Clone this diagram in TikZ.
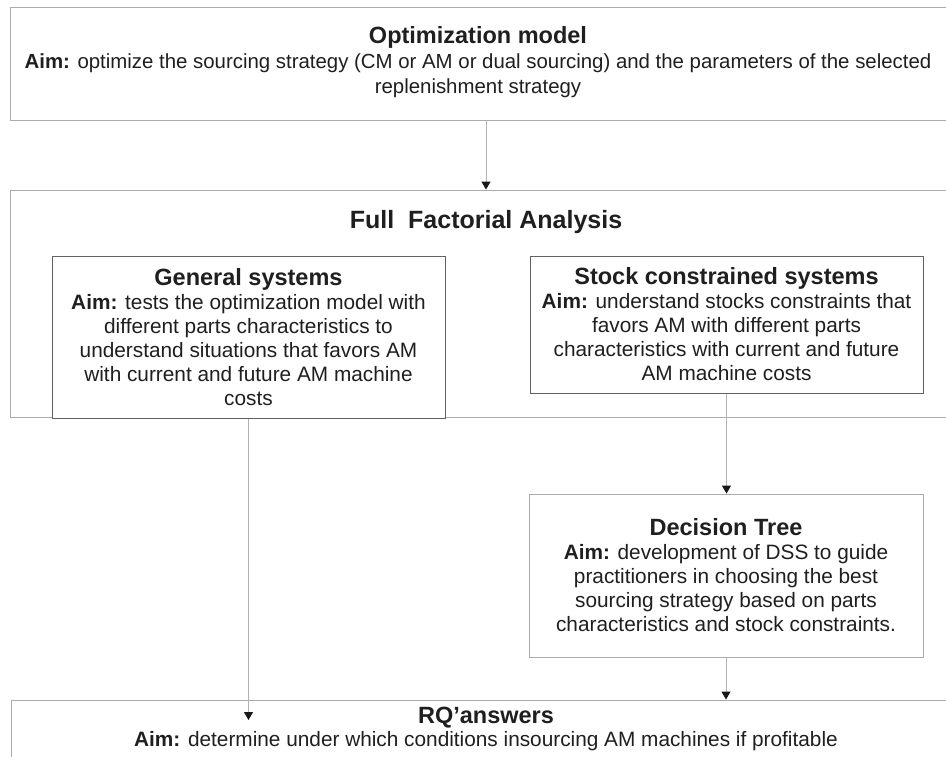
\documentclass[tikz,border=0pt]{standalone}
\usepackage{fontspec}
\setmainfont{Liberation Sans}
\usetikzlibrary{arrows.meta,shadows}
\newcommand{\ttl}[1]{{\fontsize{23.5}{24}\selectfont\bfseries #1}}
\begin{document}
\begin{tikzpicture}[x=1pt,y=-1pt,
  txt/.style={align=center, font=\fontsize{20.8}{24}\selectfont, text=black!88},
  outer/.style={draw=black!33, line width=0.9pt, inner sep=0pt},
  inbox/.style={draw=black!62, line width=1pt, fill=white, inner sep=0pt,
    drop shadow={shadow xshift=1.3pt, shadow yshift=-1.3pt, fill=black!75, opacity=1}},
  plainbox/.style={draw=black!33, line width=0.9pt, fill=white, inner sep=0pt},
  arr/.style={draw=black!30, line width=0.9pt, -{Triangle[length=8pt,width=9pt,color=black!90]}}
]
\clip (0,0) rectangle (946,756);
\fill[white] (0,0) rectangle (946,756);

% top box
\node[outer, minimum width=952pt, minimum height=113pt] (opt) at (486,63.5) {};
\node[txt, font=\fontsize{20.4}{25}\selectfont] (optt) at (478,62)
  {\ttl{Optimization model}\\
   \textbf{Aim:} optimize the sourcing strategy (CM or AM or dual sourcing) and the parameters of the selected\\
   replenishment strategy};

% full factorial box
\node[outer, minimum width=952pt, minimum height=227pt] (ff) at (486,303.5) {};
\node[txt, font=\fontsize{25}{30}\selectfont\bfseries] (fft) at (486,222) {Full\ \ Factorial Analysis};

% general systems
\node[inbox, txt, minimum width=393pt, minimum height=162pt] (gen) at (248.5,337)
  {\ttl{General systems}\\
   \textbf{Aim:} tests the optimization model with\\
   different parts characteristics to\\
   understand situations that favors AM\\
   with current and future AM machine\\
   costs};

% stock constrained
\node[inbox, txt, minimum width=393pt, minimum height=137pt] (stock) at (726.5,324.5)
  {\ttl{Stock constrained systems}\\
   \textbf{Aim:} understand stocks constraints that\\
   favors AM with different parts\\
   characteristics with current and future\\
   AM machine costs};

% decision tree
\node[plainbox, txt, minimum width=394pt, minimum height=163pt] (dt) at (726,575.5)
  {\ttl{Decision Tree}\\
   \textbf{Aim:} development of DSS to guide\\
   practitioners in choosing the best\\
   sourcing strategy based on parts\\
   characteristics and stock constraints.};

% RQ answers
\node[outer, minimum width=950pt, minimum height=100pt] (rq) at (486,750) {};
\node[txt, font=\fontsize{20.8}{23}\selectfont] (rqt) at (486,729)
  {\ttl{RQ’answers}\\
   \textbf{Aim:} determine under which conditions insourcing AM machines if profitable};

\coordinate (rqin) at (248.5,720);

% connectors
\draw[arr] (opt.south) -- (ff.north);
\draw[arr] (gen.south) -- (rqin);
\draw[arr] (stock.south) -- (stock.south |- dt.north);
\draw[arr] (dt.south) -- (dt.south |- rq.north);
\end{tikzpicture}
\end{document}
